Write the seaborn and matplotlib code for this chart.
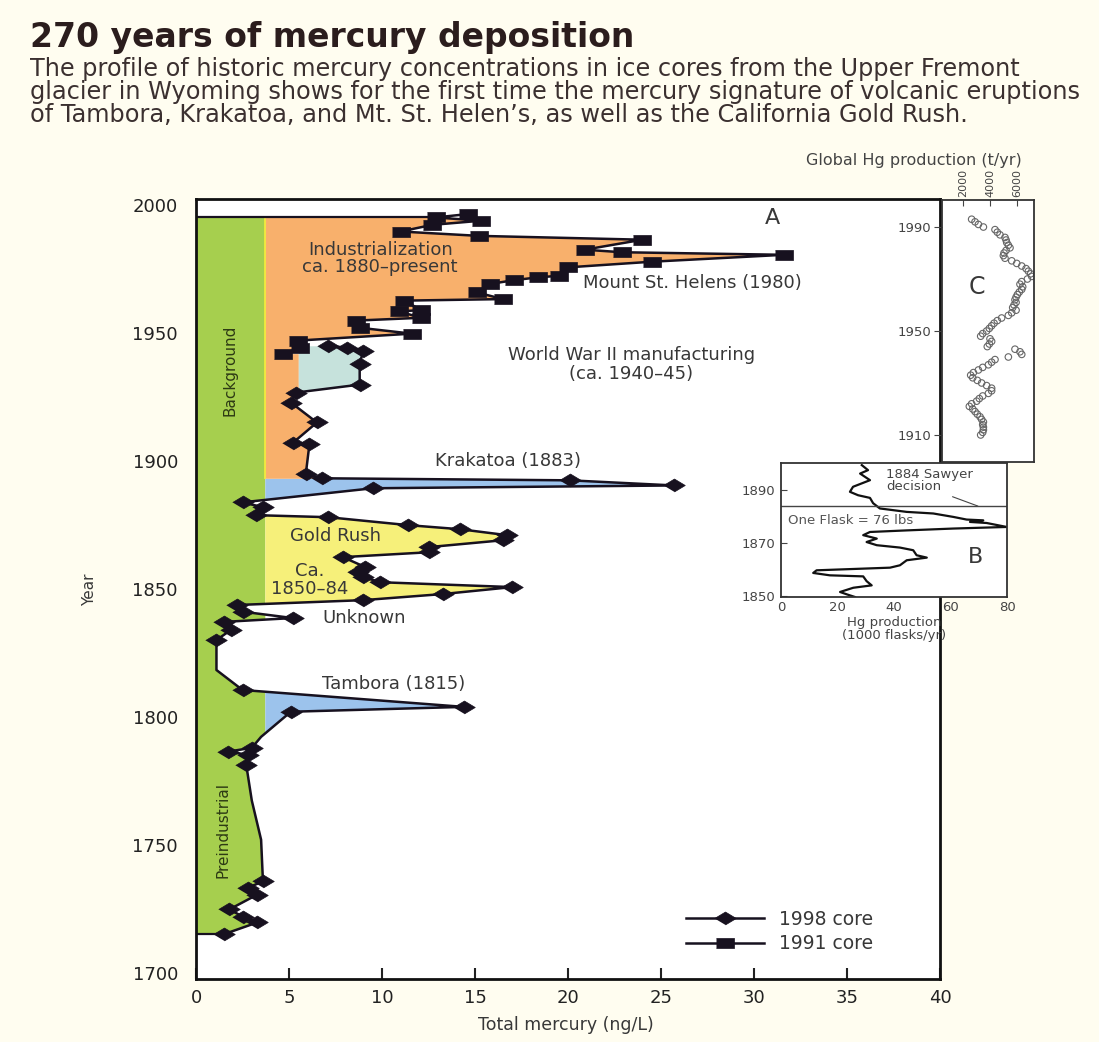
import numpy as np
import pandas as pd
import matplotlib
matplotlib.use("Agg")
import matplotlib.pyplot as plt
import seaborn as sns

plt.rcParams["font.family"] = ["DejaVu Sans"]

# ---------------- data ----------------
# 1998 ice core (diamonds): year and total mercury (ng/L)
core98_year = [1945.0, 1944.2, 1943.1, 1938.0, 1929.8, 1926.7, 1922.8, 1915.0,
               1907.0, 1906.6, 1894.7, 1893.2, 1892.4, 1890.4, 1889.3, 1883.8,
               1881.9, 1878.8, 1878.0, 1874.9, 1873.3, 1871.0, 1869.0, 1866.3,
               1864.3, 1862.4, 1858.5, 1856.5, 1854.6, 1852.6, 1850.7, 1848.0,
               1845.6, 1843.7, 1841.1, 1838.6, 1837.1, 1834.1, 1830.0, 1818.3,
               1810.5, 1803.9, 1802.0, 1792.2, 1787.9, 1786.4, 1785.2, 1781.3,
               1767.3, 1752.0, 1735.7, 1733.3, 1730.6, 1724.8, 1722.0, 1719.7,
               1715.1]
core98_hg = [7.1, 8.1, 9.0, 8.8, 8.8, 5.4, 5.1, 6.5,
             5.2, 6.1, 5.9, 6.8, 20.1, 25.7, 9.5, 2.5,
             3.6, 3.2, 7.1, 11.4, 14.2, 16.7, 16.5, 12.5,
             12.5, 7.9, 9.1, 8.7, 9.0, 9.9, 17.0, 13.3,
             9.0, 2.2, 2.5, 5.2, 1.5, 1.9, 1.1, 1.1,
             2.5, 14.4, 5.1, 3.5, 3.0, 1.7, 2.8, 2.7,
             3.0, 3.5, 3.6, 2.8, 3.3, 1.8, 2.5, 3.3,
             1.5]
# False where the profile bends between samples
core98_sample = [True] * 39 + [False] + [True] * 3 + [False] + [True] * 4 + \
                [False, False] + [True] * 7

# 1991 ice core (squares)
core91_year = [1996.4, 1995.1, 1993.8, 1992.2, 1989.6, 1987.9, 1986.4, 1982.5,
               1981.5, 1980.5, 1977.8, 1975.6, 1972.3, 1971.7, 1970.6, 1969.1,
               1965.8, 1963.2, 1962.6, 1958.9, 1958.4, 1955.9, 1954.8, 1952.0,
               1949.7, 1947.0, 1943.9, 1941.9]
core91_hg = [14.6, 12.9, 15.3, 12.7, 11.0, 15.2, 24.0, 20.9,
             22.9, 31.6, 24.5, 20.0, 19.5, 18.4, 17.1, 15.8,
             15.1, 16.5, 11.2, 12.1, 10.9, 12.1, 8.6, 8.8,
             11.6, 5.5, 5.6, 4.7]

# Inset B: Hg production (1000 flasks/yr)
flask_year = [1899.5, 1897.6, 1896.3, 1893.8, 1891.3, 1889.4, 1888.1, 1887.1,
              1885.1, 1883.1, 1881.8, 1881.2, 1879.9, 1878.9, 1878.6, 1878.0,
              1877.6, 1876.1, 1875.5, 1874.8, 1874.2, 1873.0, 1871.7, 1870.4,
              1869.2, 1868.3, 1867.3, 1865.4, 1864.5, 1863.5, 1861.6, 1860.7,
              1859.7, 1858.7, 1857.8, 1857.4, 1855.6, 1854.0, 1853.1, 1851.5,
              1850.6, 1849.6]
flask_prod = [28.6, 30.8, 28.0, 31.5, 25.5, 24.4, 27.3, 31.5,
              32.6, 35.0, 44.5, 53.9, 61.0, 65.7, 71.6, 66.9,
              72.8, 79.9, 61.0, 44.5, 31.5, 29.1, 33.9, 30.3,
              33.9, 42.1, 46.8, 48.0, 51.6, 44.5, 42.1, 38.6,
              12.6, 11.4, 17.3, 29.1, 30.3, 32.1, 25.6, 20.9,
              23.3, 26.2]

# Inset C: global Hg production (t/yr)
global_year = list(range(1993, 1909, -1))
global_prod = [2640, 2890, 3140, 3510, 4370, 4540, 4740, 5110, 5190, 5240,
               5360, 5480, 5190, 5040, 4990, 5110, 5610, 5980, 6350, 6670,
               6840, 7010, 7090, 6770, 6350, 6220, 6420, 6350, 6170, 6030,
               5930, 5850, 5930, 5780, 5680, 5930, 5610, 5360, 4860, 4540,
               4300, 4120, 3950, 3750, 3460, 3310, 4000, 4120, 3950, 3800,
               5850, 6220, 6350, 5360, 4370, 4120, 3880, 3460, 3140, 2770,
               2570, 2720, 3060, 3380, 3750, 4120, 4120, 3880, 3460, 3210,
               3010, 2640, 2470, 2720, 2890, 3060, 3260, 3380, 3510, 3460,
               3510, 3510, 3460, 3310]

# background level and shaded episodes
BASE = 3.7
FILL_TOP = 1995.1
WW2_LEFT = 5.5
WW2_BOTTOM = 1926.7
bands = [(1790.0, 1812.0, "#9cc3ec"),   # Tambora
         (1843.0, 1879.0, "#f6f07a"),   # Gold Rush
         (1883.0, 1893.2, "#9cc3ec"),   # Krakatoa
         (1893.2, FILL_TOP, "#f8b06c")]  # industrialization
GREEN = "#a6cf4e"
TEAL = "#c6e2dc"
INK = "#17111f"
TEXT = "#383838"

df98 = pd.DataFrame({"year": core98_year, "hg": core98_hg})
df91 = pd.DataFrame({"year": core91_year, "hg": core91_hg})
dfB = pd.DataFrame({"year": flask_year, "prod": flask_prod})
dfC = pd.DataFrame({"year": global_year, "prod": global_prod})

# ---------------- figure ----------------
W, H = 1099, 1042
fig = plt.figure(figsize=(W / 100, H / 100), dpi=100, facecolor="#fffdf0")


def frac(x0, y0, x1, y1):
    return [x0 / W, 1 - y1 / H, (x1 - x0) / W, (y1 - y0) / H]


ax = fig.add_axes(frac(196, 199, 940, 979))
ax.set_facecolor("white")
ax.set_xlim(0, 40)
ax.set_ylim(1697.6, 2002.3)

# shaded areas between background level and the profile
y98a = df98["year"].to_numpy()[::-1]
x98a = df98["hg"].to_numpy()[::-1]
y91a = df91["year"].to_numpy()[::-1]
x91a = df91["hg"].to_numpy()[::-1]
grid = np.linspace(y98a.min(), FILL_TOP, 8000)
x98g = np.interp(grid, y98a, x98a)
x91g = np.interp(grid, y91a, x91a)
edge = np.where(grid >= y91a.min(), x91g,
                np.where(grid >= WW2_BOTTOM, WW2_LEFT, x98g))

ax.fill_betweenx(grid, 0, np.minimum(edge, BASE), color=GREEN, lw=0, zorder=1)
for lo, hi, col in bands:
    m = (edge > BASE) & (grid >= lo) & (grid <= hi)
    ax.fill_betweenx(grid, BASE, edge, where=m, interpolate=True,
                     color=col, lw=0, zorder=1)
mw = (grid >= WW2_BOTTOM) & (grid <= y98a.max())
ax.fill_betweenx(grid, WW2_LEFT, x98g, where=mw, color=TEAL, lw=0, zorder=1)
ax.plot([BASE, BASE], [bands[-1][0], FILL_TOP], color="#f2ea3c", lw=1.3, zorder=1.5)
ax.plot([0, x98a[0]], [y98a[0], y98a[0]], color=INK, lw=1.6, zorder=2)
ax.plot([0, np.interp(FILL_TOP, y91a, x91a)], [FILL_TOP, FILL_TOP],
        color=INK, lw=1.6, zorder=2)

diamond = [(-1, 0), (0, 0.6), (1, 0), (0, -0.6)]
rect = [(-1, -0.55), (1, -0.55), (1, 0.55), (-1, 0.55)]

sns.lineplot(data=df98, x="hg", y="year", sort=False, estimator=None, ax=ax,
             color=INK, lw=1.8, marker=diamond, markersize=15.5,
             markevery=[i for i, s in enumerate(core98_sample) if s],
             markerfacecolor=INK, markeredgecolor=INK, markeredgewidth=0.5,
             zorder=3)
h98 = ax.lines[-1]
sns.lineplot(data=df91, x="hg", y="year", sort=False, estimator=None, ax=ax,
             color=INK, lw=1.8, marker=rect, markersize=13,
             markerfacecolor=INK, markeredgecolor=INK, markeredgewidth=0.5,
             zorder=3)
h91 = ax.lines[-1]

ax.set_xticks(np.arange(0, 41, 5))
ax.set_yticks(np.arange(1700, 2001, 50))
ax.tick_params(axis="x", direction="in", length=8, width=1.5, pad=7,
               labelsize=13, colors="#222222")
ax.tick_params(axis="y", length=0, pad=13, labelsize=13, colors="#222222")
for s in ax.spines.values():
    s.set_linewidth(2.0)
    s.set_color("#111111")
ax.set_xlabel("Total mercury (ng/L)", fontsize=12.5, color=TEXT)
ax.xaxis.set_label_coords(0.497, -0.048)
ax.set_ylabel("Year", fontsize=11, color=TEXT)
ax.yaxis.set_label_coords(-0.133, 0.499)

leg = ax.legend(handles=[h98, h91], labels=["1998 core", "1991 core"],
                loc="lower left", bbox_to_anchor=(0.658, 0.033), frameon=False,
                fontsize=13.5, handlelength=4.2, handletextpad=0.8,
                labelspacing=0.3, borderpad=0, borderaxespad=0)
for t in leg.get_texts():
    t.set_color(TEXT)

# event labels
kw = dict(fontsize=13, color=TEXT, zorder=4)
ax.text(9.9, 1979.1, "Industrialization\nca. 1880\u2013present", ha="center",
        va="center", linespacing=0.95, **kw)
ax.text(20.8, 1969.5, "Mount St. Helens (1980)", ha="left", va="center", **kw)
ax.text(23.4, 1937.7, "World War II manufacturing\n(ca. 1940\u201345)",
        ha="center", va="center", linespacing=1.05, **kw)
ax.text(16.8, 1900.0, "Krakatoa (1883)", ha="center", va="center", **kw)
ax.text(7.5, 1870.7, "Gold Rush", ha="center", va="center", **kw)
ax.text(6.1, 1853.5, "Ca.\n1850\u201384", ha="center", va="center",
        linespacing=0.95, **kw)
ax.text(6.8, 1838.7, "Unknown", ha="left", va="center", **kw)
ax.text(6.8, 1812.9, "Tambora (1815)", ha="left", va="center", **kw)
ax.text(31.0, 1995.0, "A", ha="center", va="center", fontsize=16, color=TEXT)
ax.text(1.85, 1935.5, "Background", rotation=90, ha="center", va="center",
        fontsize=11, color="#2d3a14", zorder=4)
ax.text(1.45, 1755.9, "Preindustrial", rotation=90, ha="center", va="center",
        fontsize=11, color="#2d3a14", zorder=4)

# ---------------- inset C: global production ----------------
axc = fig.add_axes(frac(942, 200, 1034, 462))
axc.set_facecolor("white")
sns.scatterplot(data=dfC, x="prod", y="year", ax=axc, s=22, marker="o",
                facecolors="none", edgecolor="#666666", linewidth=0.8)
axc.set_xlim(444, 7259)
axc.set_ylim(1899.6, 2000.4)
axc.set_xticks([2000, 4000, 6000])
axc.set_yticks([1910, 1950, 1990])
axc.xaxis.tick_top()
axc.tick_params(axis="x", direction="in", length=4, labelsize=8, pad=2,
                labelrotation=90, colors="#444444")
axc.tick_params(axis="y", direction="out", length=6, labelsize=9.5, pad=2,
                colors="#444444")
axc.set_xlabel("")
axc.set_ylabel("")
for s in axc.spines.values():
    s.set_linewidth(1.3)
    s.set_color("#333333")
axc.text(3037, 1966.8, "C", ha="center", va="center", fontsize=17, color=TEXT)
fig.text(914 / W, 1 - 160 / H, "Global Hg production (t/yr)", ha="center",
         va="center", fontsize=11.5, color="#444444")

# ---------------- inset B: flask production ----------------
axb = fig.add_axes(frac(781, 463, 1007, 597))
axb.set_facecolor("white")
sns.lineplot(data=dfB, x="prod", y="year", sort=False, estimator=None, ax=axb,
             color="#111111", lw=1.6)
axb.set_xlim(0, 80)
axb.set_ylim(1849.6, 1900.3)
axb.set_xticks([0, 20, 40, 60, 80])
axb.set_yticks([1850, 1870, 1890])
axb.tick_params(axis="x", length=0, labelsize=9.5, pad=3, colors="#444444")
axb.tick_params(axis="y", direction="in", length=4, labelsize=9.5, pad=4,
                colors="#444444")
for s in axb.spines.values():
    s.set_linewidth(1.3)
    s.set_color("#333333")
axb.set_xlabel("Hg production\n(1000 flasks/yr)", fontsize=9.5,
               color="#444444", linespacing=1.0, labelpad=1)
axb.set_ylabel("")
axb.axhline(1884, color="#444444", lw=1.0)
axb.annotate("1884 Sawyer\ndecision", xy=(69.7, 1884), xytext=(37.3, 1893.6),
             ha="left", va="center", fontsize=9.5, color="#444444",
             linespacing=0.95,
             arrowprops=dict(arrowstyle="-", lw=0.8, color="#444444",
                             relpos=(0.66, 0.0), shrinkA=1, shrinkB=0))
axb.text(2.6, 1878.6, "One Flask = 76 lbs", ha="left", va="center",
         fontsize=9.5, color="#555555")
axb.text(68.7, 1864.6, "B", ha="center", va="center", fontsize=16, color=TEXT)

# ---------------- headline ----------------
fig.text(30 / W, 1 - 38 / H, "270 years of mercury deposition", ha="left",
         va="center", fontsize=23.8, weight="bold", color="#2b1d1d")
fig.text(30 / W, 1 - 92 / H,
         "The profile of historic mercury concentrations in ice cores from the Upper Fremont\n"
         "glacier in Wyoming shows for the first time the mercury signature of volcanic eruptions\n"
         "of Tambora, Krakatoa, and Mt. St. Helen\u2019s, as well as the California Gold Rush.",
         ha="left", va="center", fontsize=17.3, color="#3b3030",
         linespacing=0.97)

fig.savefig("out.png", dpi=100, facecolor=fig.get_facecolor())
